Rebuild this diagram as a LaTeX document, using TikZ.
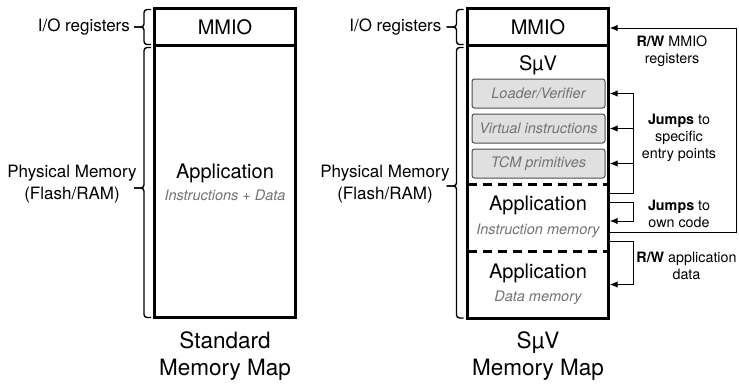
\documentclass[tikz,border=0pt]{standalone}
\usepackage{fontspec}
\setmainfont{TeX Gyre Heros}
\usetikzlibrary{arrows.meta}
\begin{document}
\begin{tikzpicture}[x=1pt,y=-1pt,
  region/.style={minimum width=140, inner sep=0},
  border/.style={line width=3pt},
  divider/.style={line width=3pt, dash pattern=on 9pt off 6pt},
  lbl/.style={font=\fontsize{17}{22}\selectfont, align=center},
  big/.style={font=\fontsize{20}{24}\selectfont},
  ttl/.style={font=\fontsize{22.5}{27}\selectfont, align=center},
  sub/.style={font=\fontsize{14.5}{17}\selectfont\itshape, text=black!55},
  note/.style={font=\fontsize{14.3}{17}\selectfont, align=center},
  gbox/.style={draw=black!70, fill=black!12, line width=1pt, rounded corners=2.5pt,
    minimum width=133, minimum height=29, inner sep=0,
    font=\fontsize{14.5}{17}\selectfont\itshape, text=black!55},
  arr/.style={line width=1pt, -{Latex[length=8pt,width=6.5pt]}},
  brk/.style={line width=1.4pt, rounded corners=3pt}
]
\fill[white] (0,0) rectangle (739,386);
\useasboundingbox (0,0) rectangle (739,386);

% ---------- Standard memory map ----------
\node[region, minimum height=36] (mmioL) at (225,27) {};
\node[region, minimum height=272] (appL) at (225,181) {};
\draw[border] (mmioL.north west) rectangle (appL.south east);
\draw[border] (mmioL.south west) -- (mmioL.south east);
\node[big] (mmioLt) at (225,27) {MMIO};
\node[big] (appLt) at (225,173) {Application};
\node[sub] (appLs) at (225,195) {Instructions + Data};
\node[ttl] (ttlL) at (225,356) {Standard\\Memory Map};

\draw[brk] (151,9.5) -- (144,9.5) -- (144,27) -- (134,27);
\draw[brk] (151,44.5) -- (144,44.5) -- (144,27) -- (134,27);
\draw[brk] (151,47.5) -- (144,47.5) -- (144,188) -- (134,188);
\draw[brk] (151,317.5) -- (144,317.5) -- (144,188) -- (134,188);
\node[lbl, anchor=east] (ioL) at (133.5,27) {I/O registers};
\node[lbl] (physL) at (72,184) {Physical Memory\\(Flash/RAM)};

% ---------- SuV memory map ----------
\node[region, minimum height=36] (mmioR) at (538,27) {};
\node[region, minimum height=139] (suv) at (538,114.5) {};
\node[region, minimum height=67] (instr) at (538,217.5) {};
\node[region, minimum height=67] (data) at (538,284.5) {};
\draw[border] (mmioR.north west) rectangle (data.south east);
\draw[border] (mmioR.south west) -- (mmioR.south east);
\draw[divider] (suv.south west) -- (suv.south east);
\draw[divider] (instr.south west) -- (instr.south east);

\node[big] (mmioRt) at (538,27) {MMIO};
\node[big] (suvt) at (538,65) {SµV};
\node[gbox] (loader) at (538.5,93.5) {Loader/Verifier};
\node[gbox] (virt) at (538.5,128.5) {Virtual instructions};
\node[gbox] (tcm) at (538.5,163.5) {TCM primitives};
\node[big] (instrt) at (538,205) {Application};
\node[sub] (instrs) at (538,231) {Instruction memory};
\node[big] (datat) at (538,273) {Application};
\node[sub] (datas) at (538,298) {Data memory};
\node[ttl] (ttlR) at (538,356) {SµV\\Memory Map};

\draw[brk] (463.5,9.5) -- (456.5,9.5) -- (456.5,27) -- (446.5,27);
\draw[brk] (463.5,44.5) -- (456.5,44.5) -- (456.5,27) -- (446.5,27);
\draw[brk] (463.5,47.5) -- (456.5,47.5) -- (456.5,186) -- (446.5,186);
\draw[brk] (463.5,318) -- (456.5,318) -- (456.5,186) -- (446.5,186);
\node[lbl, anchor=east] (ioR) at (445,27) {I/O registers};
\node[lbl] (physR) at (385,184) {Physical Memory\\(Flash/RAM)};

% ---------- connectors ----------
\draw[arr] ([yshift=-14.5pt]instr.east) -- ++(128,0) |- ([xshift=1.5pt,yshift=-1pt]mmioR.east);
\draw[arr] ([yshift=-9pt]suv.south east) -- ++(25,0) |- ([xshift=1.5pt]loader.east -| suv.east);
\draw[arr] ([xshift=25pt]virt.east -| suv.east) -- ([xshift=1.5pt]virt.east -| suv.east);
\draw[arr] ([xshift=25pt]tcm.east -| suv.east) -- ([xshift=1.5pt]tcm.east -| suv.east);
\draw[arr] ([yshift=15.5pt]instr.east) -- ++(25,0) |- ([xshift=1.5pt,yshift=-3.5pt]instr.east);
\draw[arr] ([yshift=9pt]data.north east) -- ++(25,0) |- ([xshift=1.5pt]data.east);

\node[note] (rwm) at (672,51.5) {\textbf{R/W} MMIO\\registers};
\node[note] (jse) at (679,138) {\textbf{Jumps} to\\specific\\entry points};
\node[note] (joc) at (679,213.5) {\textbf{Jumps} to\\own code};
\node[note] (rwa) at (686.5,265.5) {\textbf{R/W} application\\data};
\end{tikzpicture}
\end{document}
